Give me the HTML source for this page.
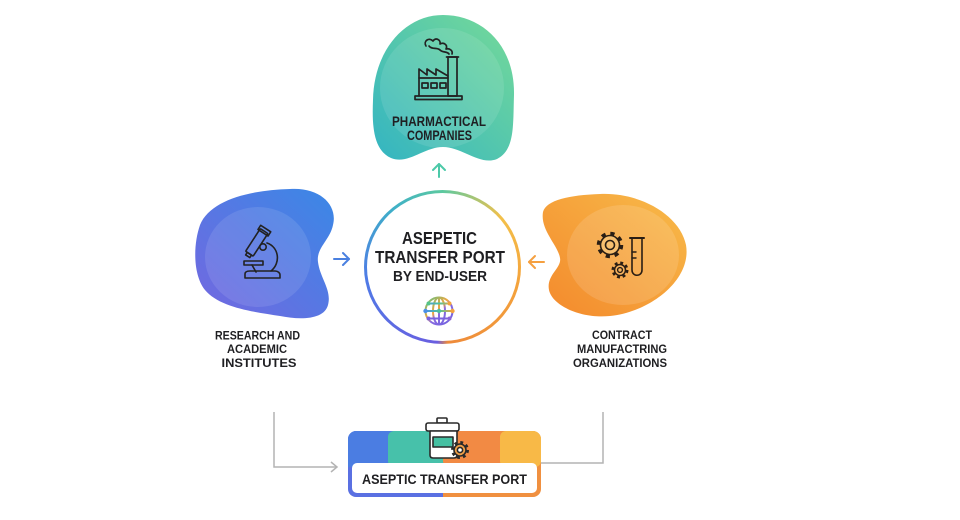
<!DOCTYPE html>
<html><head><meta charset="utf-8"><style>
html,body{margin:0;padding:0;background:#fff;width:960px;height:520px;overflow:hidden;}
#ring{position:absolute;left:364px;top:190px;width:157px;height:154px;border-radius:50%;
background:conic-gradient(from 0deg,#5cc9a0 0deg,#f3c04a 50deg,#f4a43c 100deg,#ee8a3a 176deg,#6a5ee0 184deg,#4f7ae6 260deg,#3fb0c8 320deg,#5cc9a0 360deg);}
#ring div{position:absolute;left:3px;top:3px;right:3px;bottom:3px;border-radius:50%;background:#fff;}
svg{position:absolute;left:0;top:0;}
text{font-family:"Liberation Sans",sans-serif;font-weight:bold;fill:#1f1f22;}
</style></head><body>
<div id="ring"><div></div></div>
<svg width="960" height="520" viewBox="0 0 960 520">
<defs>
<linearGradient id="gTop" x1="1" y1="0" x2="0" y2="1"><stop offset="0" stop-color="#76da98"/><stop offset="1" stop-color="#33b4c2"/></linearGradient>
<linearGradient id="gLeft" x1="1" y1="0" x2="0" y2="1"><stop offset="0" stop-color="#3a88e6"/><stop offset="1" stop-color="#7467e0"/></linearGradient>
<linearGradient id="gRight" x1="1" y1="0" x2="0" y2="1"><stop offset="0" stop-color="#f8bb4a"/><stop offset="1" stop-color="#f3892c"/></linearGradient>
<linearGradient id="gGlobe" gradientUnits="userSpaceOnUse" x1="425" y1="296" x2="453" y2="326"><stop offset="0" stop-color="#4cc48a"/><stop offset="0.45" stop-color="#f2a63e"/><stop offset="0.55" stop-color="#8a6be0"/><stop offset="1" stop-color="#6a5ee0"/></linearGradient>
<linearGradient id="gGlobe2" gradientUnits="userSpaceOnUse" x1="425" y1="311" x2="453" y2="311"><stop offset="0" stop-color="#4a8fe6"/><stop offset="0.5" stop-color="#4fc49a"/><stop offset="1" stop-color="#f2a33e"/></linearGradient>
<clipPath id="boxClip"><rect x="348" y="431" width="193" height="66" rx="8"/></clipPath>
</defs>

<!-- top blob -->
<path d="M443,15 C482,15 515,45 514,95 C513,125 515,150 497,159 C480,166 462,147 443,147 C424,147 408,165 391,158 C373,150 372,125 373,100 C374,50 405,15 443,15 Z" fill="url(#gTop)"/>
<ellipse cx="442" cy="88" rx="62" ry="60" fill="#fff" opacity="0.1"/>
<!-- factory icon -->
<g fill="none" stroke="#222" stroke-width="1.7" stroke-linejoin="round" stroke-linecap="round">
<path d="M426,46 C423,41 429,37 433,41 C436,37 441,40 440,44 C444,42 448,45 446,49 C450,48 453,51 452,54"/>
<path d="M429,46 C432,50 437,47 440,50 C443,53 447,51 449,54"/>
<rect x="448" y="57" width="9" height="39"/>
<line x1="446.5" y1="57" x2="458.5" y2="57"/>
<path d="M419,96 L419,69 L427,75 L427,69 L436,75 L436,69 L448,76"/>
<line x1="419" y1="78" x2="448" y2="78"/>
<rect x="422" y="83" width="6" height="5"/><rect x="431" y="83" width="6" height="5"/><rect x="440" y="83" width="6" height="5"/>
<rect x="415" y="96" width="47" height="3.5"/>
</g>
<text x="439" y="126" font-size="14" text-anchor="middle" textLength="94" lengthAdjust="spacingAndGlyphs">PHARMACTICAL</text>
<text x="439.5" y="140" font-size="14" text-anchor="middle" textLength="65" lengthAdjust="spacingAndGlyphs">COMPANIES</text>
<!-- up arrow -->
<g stroke="#4cc9a8" stroke-width="2" fill="none" stroke-linecap="round" stroke-linejoin="round">
<line x1="439" y1="177" x2="439" y2="164"/><path d="M433,170 L439,164 L445,170"/>
</g>

<!-- left blob -->
<path d="M290,189 C320,187 338,205 333,225 C330,240 316,248 318,262 C320,278 332,290 328,305 C324,320 300,320 280,316 C255,312 220,308 205,290 C193,275 193,245 200,225 C210,200 250,190 290,189 Z" fill="url(#gLeft)"/>
<ellipse cx="258" cy="257" rx="53" ry="50" fill="#fff" opacity="0.1"/>
<!-- microscope -->
<g fill="none" stroke="#222" stroke-width="1.6" stroke-linejoin="round" stroke-linecap="round">
<g transform="rotate(-57 257 242)"><rect x="243" y="237.5" width="27" height="9" rx="1"/><rect x="268" y="236" width="5" height="12"/><rect x="240" y="239.5" width="3" height="5"/></g>
<circle cx="263" cy="247" r="3.2"/>
<path d="M267,243 C279,247 281,263 271,271"/>
<rect x="244" y="261" width="19" height="4"/>
<path d="M252,265 L256,272"/>
<path d="M245,278 L245,274 C245,272 247,271 250,271 L275,271 C278,271 280,273 280,275 L280,278 Z"/>
</g>
<text x="257.5" y="339.5" font-size="12" text-anchor="middle" textLength="85" lengthAdjust="spacingAndGlyphs">RESEARCH AND</text>
<text x="257" y="353" font-size="12" text-anchor="middle" textLength="60" lengthAdjust="spacingAndGlyphs">ACADEMIC</text>
<text x="259" y="367" font-size="12" text-anchor="middle" textLength="75" lengthAdjust="spacingAndGlyphs">INSTITUTES</text>
<!-- right arrow -->
<g stroke="#4a80e0" stroke-width="2" fill="none" stroke-linecap="round" stroke-linejoin="round">
<line x1="334" y1="259" x2="349" y2="259"/><path d="M343,253 L349,259 L343,265"/>
</g>

<!-- right blob -->
<path d="M600,194 C640,192 680,215 686,245 C692,280 650,312 610,316 C580,319 552,305 549,290 C546,275 562,268 560,258 C558,245 540,230 543,212 C546,200 570,195 600,194 Z" fill="url(#gRight)"/>
<ellipse cx="623" cy="255" rx="56" ry="50" fill="#fff" opacity="0.13"/>
<!-- gears + tube -->
<g fill="none" stroke="#2a1e14" stroke-linejoin="round" stroke-linecap="round">
<circle cx="610" cy="245" r="11.5" stroke-width="3.5" stroke-dasharray="4.2 4.83" stroke-linecap="butt"/>
<circle cx="610" cy="245" r="9.5" stroke-width="1.6" fill="#f8c070"/>
<circle cx="610" cy="245" r="4.5" stroke-width="1.6"/>
<circle cx="620" cy="270" r="7" stroke-width="3" stroke-dasharray="2.8 2.7" stroke-linecap="butt"/>
<circle cx="620" cy="270" r="5.5" stroke-width="1.5" fill="#f7b460"/>
<circle cx="620" cy="270" r="2.4" stroke-width="1.4"/>
<path d="M632,239 L632,270 C632,277 642,277 642,270 L642,239" stroke-width="1.6"/>
<line x1="630" y1="238" x2="644" y2="238" stroke-width="2"/>
<path d="M632,252 L636,252 M632,258 L636,258" stroke-width="1.4"/>
</g>
<text x="622" y="339" font-size="12" text-anchor="middle" textLength="60" lengthAdjust="spacingAndGlyphs">CONTRACT</text>
<text x="622" y="353" font-size="12" text-anchor="middle" textLength="90" lengthAdjust="spacingAndGlyphs">MANUFACTRING</text>
<text x="620" y="367" font-size="12" text-anchor="middle" textLength="94" lengthAdjust="spacingAndGlyphs">ORGANIZATIONS</text>
<!-- left arrow -->
<g stroke="#f5a040" stroke-width="2" fill="none" stroke-linecap="round" stroke-linejoin="round">
<line x1="544" y1="262" x2="529" y2="262"/><path d="M535,256 L529,262 L535,268"/>
</g>

<!-- center text -->
<text x="439.5" y="244" font-size="17.5" text-anchor="middle" textLength="75" lengthAdjust="spacingAndGlyphs">ASEPETIC</text>
<text x="440" y="263" font-size="17.5" text-anchor="middle" textLength="130" lengthAdjust="spacingAndGlyphs">TRANSFER PORT</text>
<text x="440" y="281" font-size="15" text-anchor="middle" textLength="94" lengthAdjust="spacingAndGlyphs">BY END-USER</text>
<!-- globe -->
<g fill="none" stroke-width="2">
<circle cx="439" cy="311" r="13.5" stroke="url(#gGlobe)"/>
<ellipse cx="439" cy="311" rx="6" ry="13.5" stroke="url(#gGlobe)"/>
<line x1="439" y1="297.5" x2="439" y2="324.5" stroke="url(#gGlobe)"/>
<line x1="425.5" y1="311" x2="452.5" y2="311" stroke="url(#gGlobe2)"/>
<line x1="428" y1="303.5" x2="450" y2="303.5" stroke="url(#gGlobe2)"/>
<line x1="428" y1="318.5" x2="450" y2="318.5" stroke="#7a62de"/>
</g>
<g>
<circle cx="425.5" cy="311" r="2.2" fill="#4a8fe6"/><circle cx="452.5" cy="311" r="2.2" fill="#f2a33e"/>
<circle cx="439" cy="311" r="2.2" fill="#4fbf9c"/><circle cx="428.5" cy="303.5" r="2" fill="#55c48a"/>
<circle cx="449.5" cy="303.5" r="2" fill="#f2a33e"/><circle cx="428.5" cy="318.5" r="2" fill="#7a62de"/><circle cx="449.5" cy="318.5" r="2" fill="#8a62d8"/>
</g>

<!-- connectors -->
<g stroke="#b4b4b4" stroke-width="1.5" fill="none">
<path d="M274,412 L274,467 L337,467"/>
<path d="M331,462 L337,467 L331,472"/>
<path d="M603,412 L603,463 L541,463"/>
</g>

<!-- bottom box -->
<g clip-path="url(#boxClip)">
<rect x="348" y="431" width="100" height="66" fill="#5a70e2"/>
<rect x="443" y="431" width="98" height="66" fill="#f09040"/>
<rect x="348" y="431" width="44" height="36" fill="#4b7de2"/>
<rect x="388" y="431" width="58" height="36" rx="6" fill="#47c1aa"/>
<rect x="443" y="431" width="60" height="36" rx="6" fill="#f28a44"/>
<rect x="500" y="431" width="41" height="36" rx="6" fill="#f8b947"/>
</g>
<rect x="352" y="463" width="185" height="30" rx="5" fill="#fff"/>
<text x="444.5" y="484" font-size="14" text-anchor="middle" textLength="165" lengthAdjust="spacingAndGlyphs">ASEPTIC TRANSFER PORT</text>
<!-- jar icon -->
<g stroke="#2a2a2a" stroke-width="1.6" stroke-linejoin="round">
<rect x="437" y="418" width="10" height="5" rx="1" fill="#fff"/>
<rect x="426" y="423" width="33" height="8" rx="2" fill="#fff"/>
<path d="M430,431 L430,455 C430,457 431,458 433,458 L454,458 C456,458 457,457 457,455 L457,431 Z" fill="#fff"/>
<rect x="433" y="437" width="20" height="10" fill="#45c0a2"/>
<circle cx="460" cy="450" r="7.5" fill="none" stroke-width="3" stroke-dasharray="2.8 3.1" stroke-linecap="butt"/>
<circle cx="460" cy="450" r="6" fill="#f0a048"/>
<circle cx="460" cy="450" r="2.6" fill="#fff"/>
</g>
</svg>
</body></html>
